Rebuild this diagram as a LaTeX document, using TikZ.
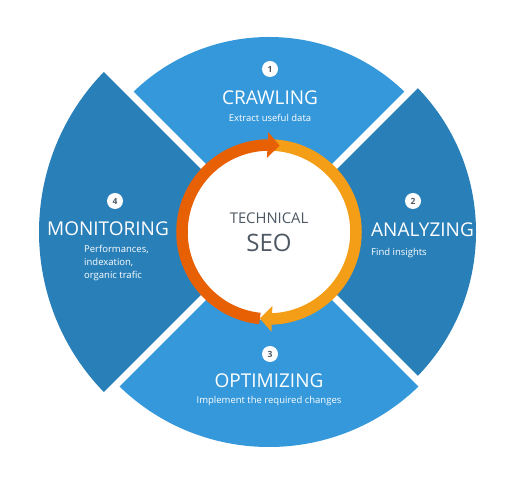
\documentclass[tikz,border=0pt]{standalone}
\usepackage{fontspec}
\setmainfont{Open Sans}
\usetikzlibrary{arrows.meta,bending}

\definecolor{lightblue}{RGB}{52,152,219}
\definecolor{darkblue}{RGB}{41,128,185}
\definecolor{ringred}{RGB}{232,96,4}
\definecolor{ringorange}{RGB}{243,158,22}
\definecolor{textgray}{RGB}{77,88,99}

\tikzset{
  title/.style={text=white,font=\fontsize{19}{21}\selectfont,inner sep=0pt},
  subtitle/.style={text=white,font=\fontsize{9.5}{13}\selectfont,inner sep=0pt},
  badge/.style={circle,fill=white,minimum size=16pt,inner sep=0pt,
    text=textgray,font=\fontsize{8.5}{9}\selectfont\bfseries},
}

\begin{document}
\begin{tikzpicture}[x=1pt,y=1pt]
  \useasboundingbox[fill=white] (0,0) rectangle (516,484);
  \coordinate (C) at (269,252);

  % the four sectors, each with its own radius
  \fill[lightblue] (C) -- +(45:195) arc[start angle=45,end angle=135,radius=195] -- cycle;
  \fill[darkblue] (C) -- +(135:230) arc[start angle=135,end angle=225,radius=230] -- cycle;
  \fill[lightblue] (C) -- +(225:215) arc[start angle=225,end angle=315,radius=215] -- cycle;
  \fill[darkblue] (C) -- +(-45:207) arc[start angle=-45,end angle=45,radius=207] -- cycle;

  % white gaps between the sectors
  \foreach \a in {45,135,225,315}
    \draw[white,line width=7pt] (C) -- +(\a:240);

  % centre disc and ring
  \fill[white] (C) circle[radius=88];
  \draw[ringorange,line width=11.5pt,-{Triangle[width=25pt,length=12pt,flex]}]
    ([shift={(90:87)}]C) arc[start angle=90,end angle=-96,radius=87];
  \draw[ringred,line width=11.5pt,-{Triangle[width=25pt,length=12pt,flex]}]
    ([shift={(264:87)}]C) arc[start angle=264,end angle=83,radius=87];

  \node[text=textgray,font=\fontsize{14.8}{16}\selectfont,inner sep=0pt] (tech) at (269,266) {TECHNICAL};
  \node[text=textgray,font=\fontsize{24}{26}\selectfont,inner sep=0pt] (seo) at (269,241.5) {SEO};

  % step 1
  \node[badge] (b1) at (270,415) {1};
  \node[title] (crawl) at (270,386) {CRAWLING};
  \node[subtitle] (crawltxt) at (270,366) {Extract useful data};

  % step 2
  \node[badge] (b2) at (413,283) {2};
  \node[title,anchor=west] (analyze) at (371,254) {ANALYZING};
  \node[subtitle,anchor=west] (analyzetxt) at (371,231) {Find insights};

  % step 3
  \node[badge] (b3) at (270,130) {3};
  \node[title] (optim) at (269,103) {OPTIMIZING};
  \node[subtitle] (optimtxt) at (269,83) {Implement the required changes};

  % step 4
  \node[badge] (b4) at (115,283) {4};
  \node[title] (monitor) at (108,255) {MONITORING};
  \node[subtitle,anchor=west,align=left] (monitortxt) at (84,221)
    {Performances,\\indexation,\\organic trafic};
\end{tikzpicture}
\end{document}
